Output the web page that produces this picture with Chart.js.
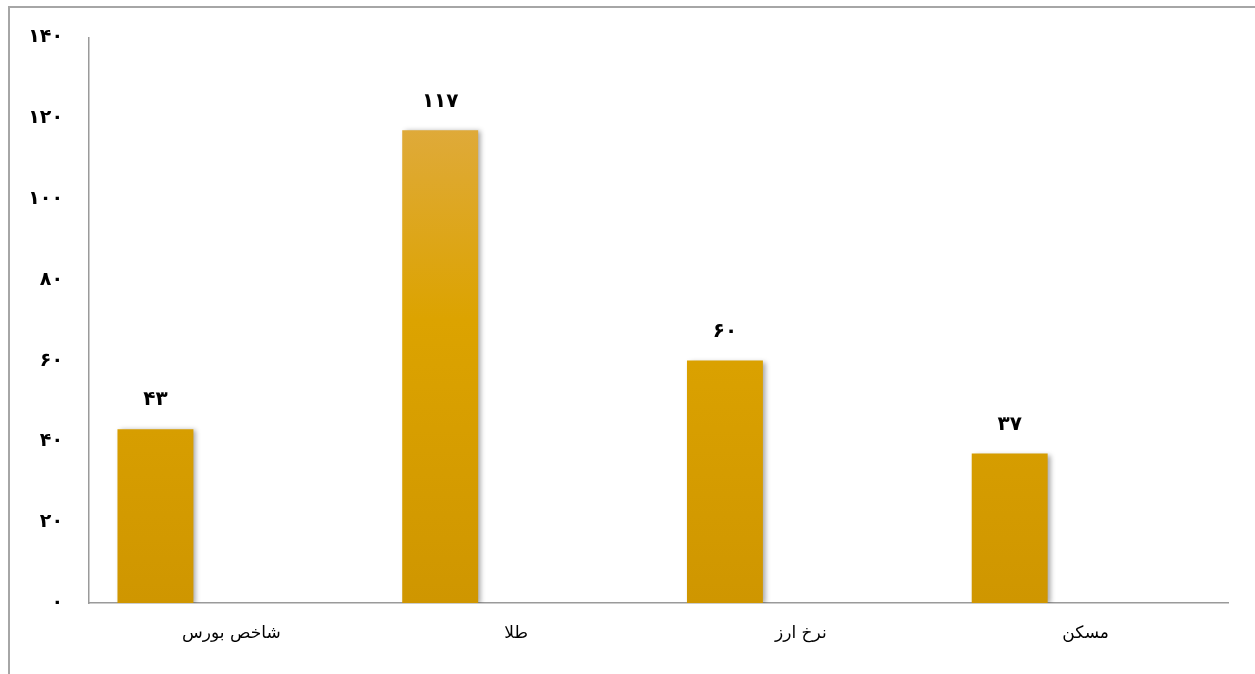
<!DOCTYPE html>
<html>
<head>
<meta charset="utf-8">
<script src="https://cdn.jsdelivr.net/npm/chart.js@4/dist/chart.umd.min.js"></script>
<style>
  html, body { margin: 0; padding: 0; background: #fff; overflow: hidden; }
  #wrap { position: relative; width: 1255px; height: 674px; }
  #frame { position: absolute; left: 8px; top: 6px; width: 1300px; height: 700px;
           border-top: 2px solid #a6a6a6; border-left: 2px solid #a6a6a6; }
  canvas { position: absolute; left: 0; top: 0; }
</style>
</head>
<body>
<div id="wrap">
  <div id="frame"></div>
  <canvas id="chart" width="1255" height="674"></canvas>
</div>
<script>
const categories = ["شاخص بورس", "طلا", "نرخ ارز", "مسکن"];
const values = [43, 117, 60, 37];
const yTicks = [0, 20, 40, 60, 80, 100, 120, 140];
// the source chart had two unused series next to the real one
const emptySeries = [null, null, null, null];

const faDigits = "۰۱۲۳۴۵۶۷۸۹";
function toFa(n) {
  return String(n).replace(/[0-9]/g, d => faDigits[d]);
}

function barFill(context) {
  const area = context.chart.chartArea;
  if (!area) return "#daa200";
  const g = context.chart.ctx.createLinearGradient(0, area.top, 0, area.bottom);
  g.addColorStop(0, "#e0ad55");
  g.addColorStop(0.5, "#dca300");
  g.addColorStop(1, "#cf9600");
  return g;
}

// soft shadow on the right/bottom of bars
const barShadow = {
  id: "barShadow",
  beforeDatasetDraw(chart) {
    const ctx = chart.ctx;
    ctx.save();
    ctx.shadowColor = "rgba(0,0,0,0.35)";
    ctx.shadowBlur = 5;
    ctx.shadowOffsetX = 3;
    ctx.shadowOffsetY = 1;
  },
  afterDatasetDraw(chart) {
    chart.ctx.restore();
  }
};

// value labels above bars
const valueLabels = {
  id: "valueLabels",
  afterDatasetsDraw(chart) {
    const ctx = chart.ctx;
    const meta = chart.getDatasetMeta(0);
    ctx.save();
    ctx.font = "bold 20px 'DejaVu Sans'";
    ctx.fillStyle = "#000";
    ctx.textAlign = "center";
    ctx.textBaseline = "middle";
    meta.data.forEach((bar, i) => {
      ctx.fillText(toFa(chart.data.datasets[0].data[i]), bar.x, bar.y - 29);
    });
    ctx.restore();
  }
};

new Chart(document.getElementById("chart"), {
  type: "bar",
  data: {
    labels: categories,
    datasets: [
      { data: values, backgroundColor: barFill, borderWidth: 0 },
      { data: emptySeries },
      { data: emptySeries }
    ]
  },
  plugins: [barShadow, valueLabels],
  options: {
    responsive: false,
    animation: false,
    events: [],
    datasets: { bar: { barPercentage: 1, categoryPercentage: 0.8 } },
    layout: { padding: { left: 0, top: 37, right: 27, bottom: 21 } },
    plugins: { legend: { display: false }, tooltip: { enabled: false } },
    scales: {
      x: {
        grid: { display: false, drawTicks: false },
        border: { display: true, color: "#9a9a9a", width: 1.5 },
        ticks: {
          color: "#000",
          padding: 20,
          font: { family: "'DejaVu Sans'", size: 17 }
        },
        afterFit(scale) { scale.height = 50; }
      },
      y: {
        min: 0,
        max: 140,
        grid: { display: false, drawTicks: false },
        border: { display: true, color: "#9a9a9a", width: 1.5 },
        afterBuildTicks(scale) { scale.ticks = yTicks.map(v => ({ value: v })); },
        ticks: {
          color: "#000",
          padding: 26,
          font: { family: "'DejaVu Sans'", size: 19, weight: "bold" },
          callback: v => toFa(v)
        },
        afterFit(scale) { scale.width = 89; }
      }
    }
  }
});
</script>
</body>
</html>
